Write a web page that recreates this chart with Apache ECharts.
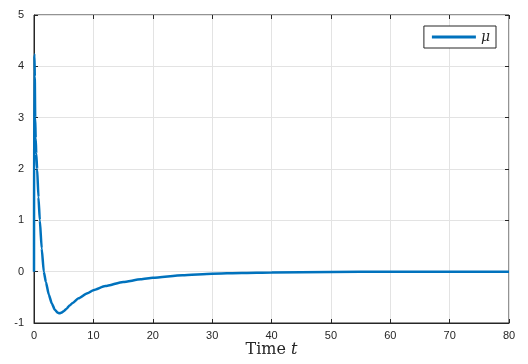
<!DOCTYPE html>
<html><head><meta charset="utf-8">
<script src="https://cdn.jsdelivr.net/npm/echarts@6/dist/echarts.min.js"></script>
<style>html,body{margin:0;padding:0;background:#fff}#c{width:528px;height:364px}</style>
</head><body><div id="c"></div>
<script>
const timeT = [0, 0.03, 0.08, 0.13, 0.2, 0.28, 0.38, 0.53, 0.75, 0.98, 1.3, 1.65, 2.0, 2.5, 3.0, 3.5, 4.0, 4.3, 4.6, 5.0, 5.5, 6.0, 6.5, 7.5, 9, 10, 12, 15, 18, 20, 25, 30, 35, 40, 50, 60, 70, 80];
const muValues = [0, 4.23, 4.2, 3.8, 3.0, 2.6, 2.3, 2.0, 1.45, 1.0, 0.45, 0.0, -0.2, -0.45, -0.62, -0.74, -0.8, -0.81, -0.8, -0.77, -0.72, -0.66, -0.61, -0.52, -0.42, -0.36, -0.28, -0.2, -0.15, -0.12, -0.07, -0.04, -0.025, -0.015, -0.006, -0.002, -0.001, 0];
const xTicks = [0, 10, 20, 30, 40, 50, 60, 70, 80];
const yTicks = [-1, 0, 1, 2, 3, 4, 5];
const seriesName = 'μ';

const data = timeT.map((t, i) => [t, muValues[i]]);
const chart = echarts.init(document.getElementById('c'), null, {renderer: 'canvas'});
const labelStyle = {color: '#262626', fontFamily: 'Liberation Sans, Arial, sans-serif', fontSize: 11};
const tickCommon = {show: true, inside: true, length: 4, lineStyle: {color: '#262626', width: 1}};
chart.setOption({
  animation: false,
  grid: {left: 34, right: 19, top: 15, bottom: 41, show: true, borderColor: '#262626', borderWidth: 1, outerBoundsMode: 'none', containLabel: false},
  legend: {
    data: [seriesName], right: 32, top: 26, orient: 'horizontal',
    backgroundColor: '#fff', borderColor: '#262626', borderWidth: 1,
    padding: [4, 6, 4, 8], itemGap: 4, itemWidth: 44, itemHeight: 3, icon: 'rect',
    textStyle: {fontFamily: 'DejaVu Serif, serif', fontStyle: 'italic', fontSize: 14, color: '#262626', padding: [0, 0, 0, 0]}
  },
  xAxis: [{
    type: 'value', min: 0, max: 80, interval: 10,
    name: '{a|Time }{b|t}', nameLocation: 'middle', nameGap: 19, nameMoveOverlap: false,
    nameTextStyle: {rich: {a: {fontFamily: 'DejaVu Serif, serif', fontSize: 16, color: '#262626'}, b: {fontFamily: 'DejaVu Serif, serif', fontStyle: 'italic', fontSize: 16, color: '#262626'}}},
    axisLine: {show: true, onZero: false, lineStyle: {color: '#262626'}},
    axisTick: tickCommon,
    axisLabel: Object.assign({margin: 7, formatter: v => xTicks.includes(v) ? String(v) : ''}, labelStyle),
    splitLine: {show: true, lineStyle: {color: '#e3e3e3', width: 1}}
  }, {
    type: 'value', min: 0, max: 80, interval: 10, position: 'top',
    axisLine: {show: false, onZero: false}, axisTick: tickCommon, axisLabel: {show: false}, splitLine: {show: false}
  }],
  yAxis: [{
    type: 'value', min: -1, max: 5, interval: 1,
    axisLine: {show: true, onZero: false, lineStyle: {color: '#262626'}},
    axisTick: tickCommon,
    axisLabel: Object.assign({margin: 10, formatter: v => yTicks.includes(v) ? String(v) : ''}, labelStyle),
    splitLine: {show: true, lineStyle: {color: '#e3e3e3', width: 1}}
  }, {
    type: 'value', min: -1, max: 5, interval: 1, position: 'right',
    axisLine: {show: false, onZero: false}, axisTick: tickCommon, axisLabel: {show: false}, splitLine: {show: false}
  }],
  series: [{
    name: seriesName, type: 'line', data: data, showSymbol: false, smooth: 0.2, smoothMonotone: 'x',
    lineStyle: {color: '#0072BD', width: 2.5}, itemStyle: {color: '#0072BD'}
  }]
});
</script></body></html>
